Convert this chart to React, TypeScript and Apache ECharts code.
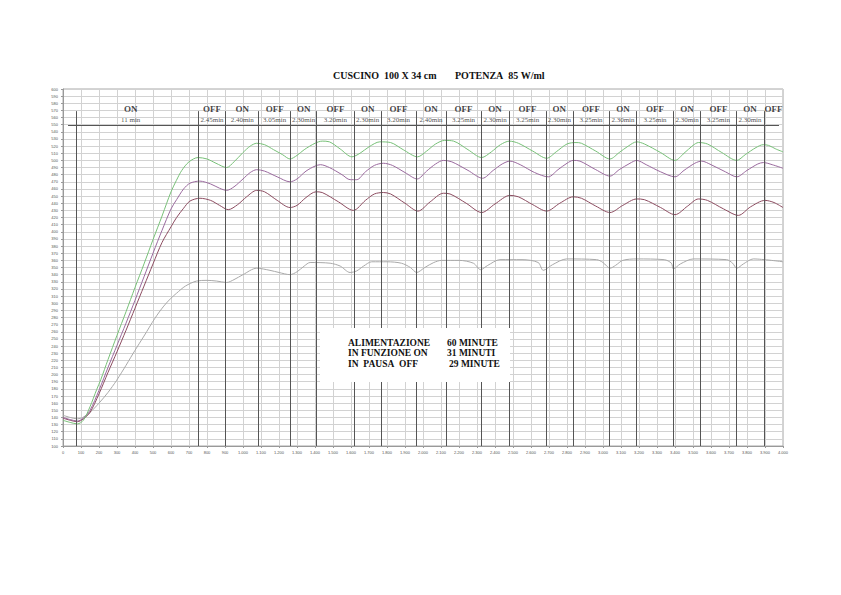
import { useEffect, useRef } from "react";
import * as echarts from "echarts";

// --- titolo e riquadro riassuntivo ---
const TITLE_LEFT = "CUSCINO\u00a0\u00a0100 X 34 cm";
const TITLE_RIGHT = "POTENZA\u00a0\u00a085 W/ml";
const SUMMARY_LABELS = ["ALIMENTAZIONE", "IN FUNZIONE ON", "IN\u00a0\u00a0PAUSA\u00a0\u00a0OFF"];
const SUMMARY_VALUES = ["60 MINUTE", "31 MINUTI", "29 MINUTE"];

// --- fasi ON/OFF (secondi) ---
const PHASE_START = [76, 752, 904, 1087, 1265, 1409, 1618, 1767, 1961, 2128, 2322, 2479, 2683, 2832, 3035, 3187, 3391, 3543, 3739, 3894];
const PHASE_STATE = ["ON", "OFF", "ON", "OFF", "ON", "OFF", "ON", "OFF", "ON", "OFF", "ON", "OFF", "ON", "OFF", "ON", "OFF", "ON", "OFF", "ON", "OFF"];
const PHASE_LENGTH = ["11 min", "2.45min", "2.40min", "3.05min", "2.30min", "3.20min", "2.30min", "3.20min", "2.40min", "3.25min", "2.30min", "3.25min", "2.30min", "3.25min", "2.30min", "3.25min", "2.30min", "3.25min", "2.30min", ""];

// --- curve [s, valore] ---
const GREEN = [[0,136],[40,133],[80,131],[113,136],[150,155],[187,179],[210,193],[250,221],[300,255],[350,288],[400,322],[450,355],[500,389],[550,422],[576,440],[600,456],[630,472],[660,486],[700,498],[750,504],[800,502],[850,496],[909,490],[950,498],[1000,511],[1040,520],[1076,524],[1120,522],[1170,515],[1220,508],[1261,502],[1300,507],[1340,515],[1400,524],[1440,527],[1480,526],[1540,516],[1605,505],[1650,510],[1700,519],[1760,526],[1820,525],[1890,515],[1970,505],[2020,513],[2070,523],[2120,528],[2170,527],[2250,515],[2326,504],[2380,512],[2430,522],[2480,527],[2530,524],[2610,513],[2687,503],[2740,512],[2800,523],[2850,525],[2880,524],[2960,513],[3039,502],[3090,511],[3140,520],[3187,526],[3230,523],[3320,511],[3400,500],[3450,510],[3500,521],[3530,525],[3580,523],[3660,511],[3743,500],[3790,508],[3850,518],[3890,522],[3920,521],[3960,516],[4000,512]];
const PURPLE = [[0,140],[40,137],[80,135],[113,139],[150,150],[200,178],[250,210],[300,241],[350,272],[400,304],[450,337],[500,370],[550,402],[600,432],[631,445],[670,460],[705,468],[760,471],[820,467],[870,461],[909,458],[950,463],[1000,474],[1040,483],[1076,487],[1120,485],[1190,477],[1261,470],[1300,474],[1350,485],[1400,492],[1430,494],[1480,490],[1550,480],[1595,473],[1632,473],[1680,484],[1730,493],[1780,496],[1830,493],[1900,483],[1968,474],[2020,485],[2070,495],[2113,500],[2160,498],[2250,486],[2331,475],[2390,486],[2440,495],[2483,499],[2540,494],[2620,483],[2696,477],[2750,487],[2800,496],[2835,500],[2872,499],[2960,487],[3039,478],[3090,487],[3150,496],[3187,500],[3240,494],[3320,484],[3400,477],[3450,486],[3510,496],[3548,499],[3600,494],[3680,484],[3743,477],[3800,486],[3860,495],[3891,497],[3940,494],[4000,489]];
const MAROON = [[0,139],[40,136],[80,134],[113,138],[150,147],[200,173],[250,203],[300,232],[350,262],[400,293],[450,324],[500,355],[550,385],[600,407],[631,420],[670,433],[705,443],[761,447],[820,444],[870,437],[918,431],[970,438],[1020,449],[1076,458],[1120,456],[1190,444],[1261,434],[1300,437],[1350,448],[1405,456],[1440,455],[1530,442],[1613,430],[1680,444],[1730,453],[1780,455],[1820,453],[1900,440],[1972,429],[2040,442],[2113,454],[2150,453],[2240,440],[2326,427],[2400,439],[2483,451],[2530,449],[2610,438],[2687,429],[2760,440],[2835,449],[2880,447],[2960,436],[3039,427],[3110,437],[3187,446],[3230,445],[3320,434],[3400,424],[3470,436],[3530,446],[3580,444],[3670,432],[3752,423],[3820,435],[3900,444],[3950,441],[4000,434]];
const GREY = [[0,143],[40,140],[80,138],[110,140],[150,147],[200,160],[250,175],[298,192],[350,213],[400,234],[450,254],[511,279],[560,296],[600,307],[631,314],[680,324],[742,331],[800,332],[854,331],[909,329],[950,333],[1000,340],[1076,349],[1150,346],[1200,343],[1261,340],[1300,344],[1340,352],[1373,357],[1484,356],[1540,352],[1595,343],[1630,345],[1670,352],[1715,358],[1800,358],[1880,356],[1930,350],[1965,343],[2010,350],[2060,357],[2104,360],[2200,360],[2280,356],[2320,347],[2360,353],[2428,361],[2550,361],[2640,357],[2668,346],[2720,354],[2798,362],[2965,361],[3000,357],[3039,349],[3070,353],[3110,360],[3187,362],[3340,361],[3380,356],[3391,348],[3430,355],[3502,362],[3687,361],[3720,356],[3743,349],[3780,355],[3835,362],[4000,358]];

const X_MIN = 0;
const X_MAX = 4000;
const Y_MIN = 100;
const Y_MAX = 600;

const SERIF = "Liberation Serif";
const SANS = "Liberation Sans";
const GRID_LINE = "#d2d2d2";
const MARKER = "#555";

function fmtThousands(v: number) {
  if (v < 1000) return String(v);
  return `${Math.floor(v / 1000)}.${String(v % 1000).padStart(3, "0")}`;
}

function phaseCenter(i: number) {
  const a = i === 0 ? X_MIN : PHASE_START[i];
  const b = i + 1 < PHASE_START.length ? PHASE_START[i + 1] : X_MAX;
  return (a + b) / 2;
}

export default function App() {
  const ref = useRef<HTMLDivElement>(null);

  useEffect(() => {
    if (!ref.current) return;
    const chart = echarts.init(ref.current, undefined, { renderer: "svg" });

    const curve = (name: string, data: number[][], color: string) => ({
      name,
      type: "line",
      data,
      smooth: 0.3,
      showSymbol: false,
      silent: true,
      z: 3,
      lineStyle: { color, width: 1 },
    });

    const boxText = (text: string, x: number, i: number) => ({
      type: "text",
      x,
      y: 342.7 + i * 10.7,
      z: 21,
      style: {
        text,
        fontFamily: SERIF,
        fontWeight: "bold",
        fontSize: 9.5,
        fill: "#111",
        verticalAlign: "middle",
      },
    });

    const option: echarts.EChartsOption = {
      animation: false,
      backgroundColor: "#fff",
      title: [
        {
          text: TITLE_LEFT,
          left: 328,
          top: 65,
          textStyle: { fontFamily: SERIF, fontWeight: "bold", fontSize: 10, color: "#111" },
        },
        {
          text: TITLE_RIGHT,
          left: 450,
          top: 65,
          textStyle: { fontFamily: SERIF, fontWeight: "bold", fontSize: 10, color: "#111" },
        },
      ],
      grid: {
        left: 63,
        top: 89,
        width: 720,
        height: 357,
        show: true,
        borderColor: "#a8a8a8",
        borderWidth: 1,
      },
      xAxis: {
        type: "value",
        min: X_MIN,
        max: X_MAX,
        interval: 100,
        axisLine: { lineStyle: { color: "#999" } },
        axisTick: { length: 2, lineStyle: { color: "#999" } },
        axisLabel: {
          fontFamily: SANS,
          fontSize: 4,
          color: "#555",
          margin: 4,
          formatter: (v: number) => fmtThousands(v),
        },
        splitLine: { lineStyle: { color: GRID_LINE, width: 1 } },
      },
      yAxis: {
        type: "value",
        min: Y_MIN,
        max: Y_MAX,
        interval: 10,
        axisLine: { show: true, lineStyle: { color: "#999" } },
        axisTick: { length: 2, lineStyle: { color: "#999" } },
        axisLabel: { fontFamily: SANS, fontSize: 4, color: "#555", margin: 5 },
        splitLine: { lineStyle: { color: GRID_LINE, width: 1 } },
      },
      series: [
        curve("grigio", GREY, "#a9a9a9"),
        curve("rosso", MAROON, "#8c4c60"),
        curve("viola", PURPLE, "#9a6a9e"),
        curve("verde", GREEN, "#78c078"),
        {
          name: "stato",
          type: "scatter",
          symbolSize: 1,
          silent: true,
          itemStyle: { color: "transparent" },
          z: 5,
          label: {
            show: true,
            position: "inside",
            formatter: (p: any) => p.name,
            fontFamily: SERIF,
            fontWeight: "bold",
            fontSize: 9,
            color: "#111",
          },
          data: PHASE_STATE.map((s, i) => ({ name: s, value: [phaseCenter(i), 572] })),
          markLine: {
            silent: true,
            symbol: "none",
            label: { show: false },
            lineStyle: { color: MARKER, width: 1, type: "solid" },
            data: [
              ...PHASE_START.map((t) => [{ coord: [t, Y_MIN] }, { coord: [t, 569] }]),
              [{ coord: [28, 549] }, { coord: [3978, 549] }],
            ] as any,
          },
        },
        {
          name: "durata",
          type: "scatter",
          symbolSize: 1,
          silent: true,
          itemStyle: { color: "transparent" },
          z: 5,
          label: {
            show: true,
            position: "inside",
            formatter: (p: any) => p.name,
            fontFamily: SERIF,
            fontSize: 7,
            color: "#222",
          },
          data: PHASE_LENGTH.map((s, i) => ({ name: s, value: [phaseCenter(i), 556.5] })),
        },
      ],
      graphic: [
        {
          type: "rect",
          z: 20,
          shape: { x: 320, y: 328, width: 190, height: 54 },
          style: { fill: "#fff" },
        },
        ...SUMMARY_LABELS.map((s, i) => boxText(s, 348, i)),
        ...SUMMARY_VALUES.map((s, i) => boxText(s, i === 2 ? 449 : 447, i)),
      ],
    };

    chart.setOption(option);
    return () => chart.dispose();
  }, []);

  return (
    <div
      ref={ref}
      style={{ position: "absolute", left: 0, top: 0, width: 841, height: 595, background: "#fff" }}
    />
  );
}
